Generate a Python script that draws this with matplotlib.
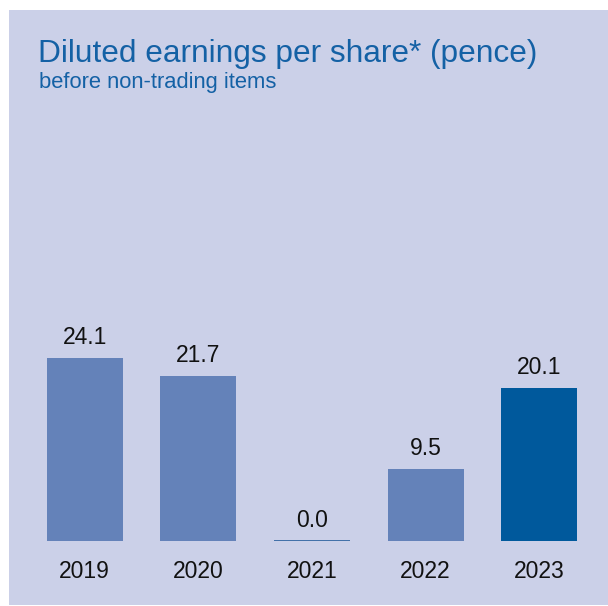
import matplotlib
matplotlib.use("Agg")
import matplotlib.pyplot as plt
from matplotlib.patches import Rectangle

# data
years = ['2019', '2020', '2021', '2022', '2023']
eps = [24.1, 21.7, 0.0, 9.5, 20.1]
bar_colors = ['#6482b9', '#6482b9', '#6482b9', '#6482b9', '#00599c']

title = 'Diluted earnings per share* (pence)'
subtitle = 'before non-trading items'

plt.rcParams['font.family'] = ['Liberation Sans', 'DejaVu Sans']

W, H = 608, 606
fig = plt.figure(figsize=(W / 100, H / 100), dpi=100)
fig.patch.set_facecolor('white')

# lavender panel
fig.patches.append(Rectangle((9 / W, 1 / H), 1 - 9 / W, 1 - 11 / H,
                             transform=fig.transFigure, facecolor='#cbd0e8',
                             edgecolor='none', zorder=-5))

fig.text(38 / W, 1 - 62 / H, title, color='#1461a5', fontsize=22.8,
         va='baseline', ha='left')
fig.text(39 / W, 1 - 88 / H, subtitle, color='#1461a5', fontsize=15.8,
         va='baseline', ha='left')

ax = fig.add_axes([28 / W, (H - 541) / H, 568 / W, 228 / H])
ax.set_facecolor('none')
x = list(range(len(years)))
bw = 0.67
ax.bar(x, eps, width=bw, color=bar_colors, zorder=2)
for i, v in enumerate(eps):
    if v == 0:
        ax.hlines(0, i - bw / 2, i + bw / 2, color='#1a5596', lw=1.1, zorder=3)
    ax.annotate(f'{v:.1f}', xy=(i, v), xytext=(0, 14.8), textcoords='offset points',
                ha='center', va='center', fontsize=16.5, color='#111111')
    ax.annotate(years[i], xy=(i, 0), xytext=(0, -21.8), textcoords='offset points',
                ha='center', va='center', fontsize=16.5, color='#111111')

ax.set_xlim(-0.5, 4.5)
ax.set_ylim(0, 30)
ax.axis('off')

fig.savefig('out.png', dpi=100)
